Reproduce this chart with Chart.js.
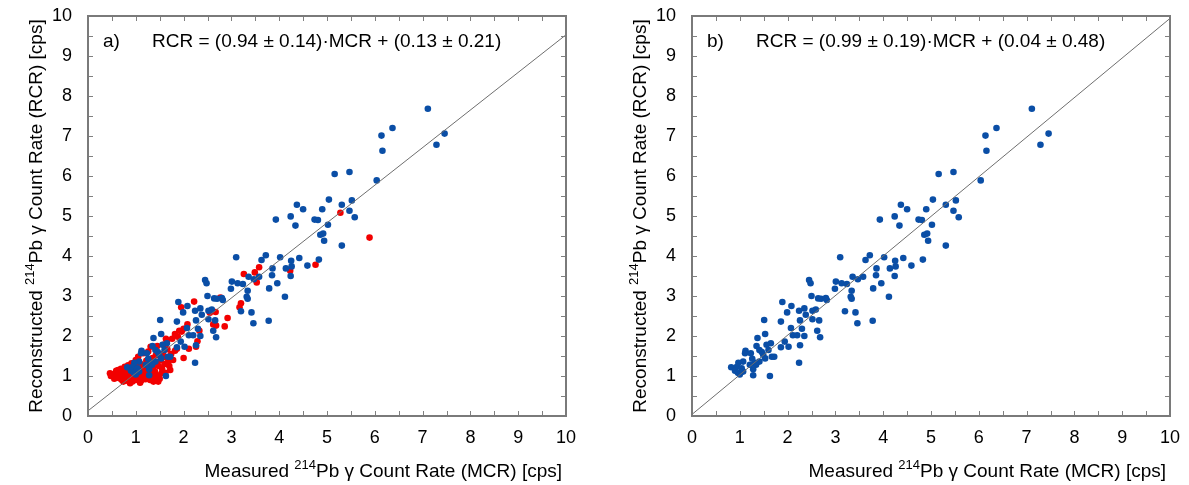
<!DOCTYPE html>
<html>
<head>
<meta charset="utf-8">
<script src="https://cdn.jsdelivr.net/npm/chart.js@4/dist/chart.umd.min.js"></script>
<style>
  html, body { margin: 0; padding: 0; background: #fff; }
  #wrap { position: relative; width: 1189px; height: 485px; overflow: hidden; }
  canvas { position: absolute; top: 0; }
</style>
</head>
<body>
<div id="wrap">
  <canvas id="ca" width="604" height="485" style="left:0"></canvas>
  <canvas id="cb" width="585" height="485" style="left:604px"></canvas>
</div>
<script>
// Reference-spectrometer points (blue): measured vs reconstructed 214Pb count rate [cps]
const blueMCR = [3.10,3.72,3.63,3.86,4.02,3.85,3.58,3.36,3.47,3.24,3.13,3.01,2.99,2.45,2.48,2.50,2.64,2.70,2.80,2.82,
  3.34,3.32,3.34,3.79,3.96,4.12,3.20,3.42,3.46,3.78,1.89,2.08,1.99,2.24,2.35,2.38,2.26,2.52,2.59,2.52,
  2.66,1.51,1.86,2.07,2.30,2.62,2.11,2.20,2.35,2.68,1.53,1.37,1.94,1.86,2.02,2.26,1.65,1.56,1.12,1.11,
  1.23,1.35,1.41,1.46,1.60,1.49,1.67,1.72,1.53,1.26,1.07,0.97,1.32,1.41,1.34,0.82,0.94,1.04,0.90,0.96,
  1.00,1.07,1.28,1.28,1.63,1.21,6.14,6.16,5.16,5.47,6.04,5.04,5.52,5.31,5.47,5.58,4.37,4.50,4.90,4.24,
  3.93,4.74,4.81,4.34,5.02,4.86,4.92,4.94,5.31,4.25,4.42,4.26,4.59,4.83,4.14,4.24,7.11,6.37,7.46,7.29,2.24];
const blueRCR = [3.97,4.02,3.90,3.69,3.97,3.52,3.48,3.48,3.42,3.30,3.32,3.36,3.18,3.40,3.32,3.00,2.94,2.93,2.95,2.90,
  3.13,2.98,2.93,3.19,3.32,2.98,2.62,2.59,2.32,2.38,2.85,2.75,2.59,2.63,2.69,2.53,2.39,2.63,2.66,2.42,
  2.39,2.40,2.36,2.20,2.18,2.13,2.02,2.02,2.00,1.97,2.05,1.95,1.86,1.72,1.73,1.77,1.82,1.78,1.63,1.57,
  1.57,1.75,1.65,1.60,1.65,1.53,1.48,1.48,1.44,1.43,1.36,1.33,1.33,1.36,1.28,1.22,1.23,1.19,1.13,1.08,
  1.04,1.11,1.17,1.02,1.00,1.28,7.01,6.63,6.05,6.10,5.89,5.41,5.39,5.28,5.13,4.97,5.28,5.17,5.17,4.99,
  4.91,4.91,4.90,4.76,4.78,4.53,4.56,4.38,4.26,3.88,3.95,3.74,3.76,3.91,3.69,3.50,7.68,7.20,7.06,6.78,1.33];

// Additional points shown only in panel a (red)
const redMCR = [5.28,5.89,4.76,4.23,3.58,3.49,3.26,3.53,2.77,3.20,3.17,2.22,1.95,2.67,2.55,2.92,2.86,2.62,2.68,2.08,
  2.00,1.91,2.33,1.82,1.88,1.63,1.76,2.00,2.11,2.29,2.26,1.86,1.66,1.45,1.31,1.26,1.82,1.68,1.72,1.54,
  1.47,1.37,1.09,0.95,0.46,0.56,0.67,0.74,0.88,0.63,0.77,0.91,1.05,1.16,1.58,1.65,1.96,
  0.52,0.58,0.60,0.62,0.64,0.66,0.68,0.70,0.71,0.73,0.75,0.76,0.78,0.79,0.80,0.82,0.83,0.85,0.86,0.87,
  0.89,0.90,0.92,0.93,0.95,0.97,0.98,1.00,1.01,1.02,1.04,1.06,1.08,1.10,1.11,1.13,1.15,1.17,1.18,1.20,
  1.22,1.24,1.25,1.27,1.29,1.30,1.33,1.35,1.36,1.38,1.40,1.42,1.43,1.45,1.48,1.50,1.52,1.55,1.57,1.60,
  1.62,1.64,1.70,1.74,1.78,0.48,0.55,0.59,0.69,1.00,0.84];
const redRCR = [5.08,4.46,3.78,3.63,3.72,3.59,3.55,3.34,2.96,2.82,2.72,2.86,2.72,2.60,2.58,2.45,2.24,2.29,2.26,2.29,
  2.18,2.13,2.13,2.05,1.98,1.93,1.93,1.45,1.68,1.87,1.73,1.68,1.67,1.75,1.73,1.61,1.63,1.36,1.15,1.07,
  0.86,0.86,0.83,0.94,1.07,0.98,0.94,0.86,0.82,1.15,1.23,1.32,1.48,1.57,1.78,1.86,2.11,
  1.04,1.08,1.02,0.96,1.10,1.05,0.99,1.12,0.90,1.03,0.97,1.08,0.92,1.15,1.01,0.88,1.06,0.95,1.12,1.00,
  0.91,1.20,1.04,0.86,1.10,0.98,1.16,0.90,1.25,1.02,0.94,1.09,1.00,1.30,0.88,1.14,0.97,1.22,1.05,0.92,
  1.38,1.11,0.98,1.30,1.19,0.90,1.05,1.45,1.22,0.96,1.12,1.52,1.34,1.02,1.25,0.93,1.40,1.18,1.55,1.30,
  1.08,1.46,1.25,1.55,1.40,1.00,0.93,1.13,1.18,1.40,1.27];

// Linear fits RCR = slope·MCR + intercept, panels a and b
const panelLabels = ['a)', 'b)'];
const fitSlope = [0.94, 0.99];
const fitIntercept = [0.13, 0.04];
const fitText = ['RCR = (0.94 ± 0.14)·MCR + (0.13 ± 0.21)', 'RCR = (0.99 ± 0.19)·MCR + (0.04 ± 0.48)'];
const axisTicks = [0, 1, 2, 3, 4, 5, 6, 7, 8, 9, 10];

const FONT = '"Liberation Sans", Arial, Helvetica, sans-serif';
const BLUE = '#0a4ea6';
const RED = '#f20000';
const TEXT_SIZE = 19;

const toPoints = (xs, ys) => xs.map((x, i) => ({ x, y: ys[i] }));

function drawRich(ctx, parts, x, y, size, measureOnly) {
  let cx = x;
  for (const p of parts) {
    const s = p.sup ? Math.round(size * 0.66) : size;
    ctx.font = s + 'px ' + FONT;
    if (!measureOnly) ctx.fillText(p.t, cx, p.sup ? y - size * 0.4 : y);
    cx += ctx.measureText(p.t).width;
  }
  return cx - x;
}

const xTitle = [{ t: 'Measured ' }, { t: '214', sup: true }, { t: 'Pb γ Count Rate (MCR) [cps]' }];
const yTitle = [{ t: 'Reconstructed ' }, { t: '214', sup: true }, { t: 'Pb γ Count Rate (RCR) [cps]' }];

const framePlugin = {
  id: 'frame',
  afterDatasetsDraw(chart, args, opts) {
    const { ctx, chartArea: a, scales } = chart;
    const xs = scales.x, ys = scales.y;
    ctx.save();
    // inward tick marks every 0.5 on all four sides
    ctx.strokeStyle = '#808080';
    ctx.lineWidth = 1;
    const L = 5;
    ctx.beginPath();
    for (let v = 0.5; v < 10; v += 0.5) {
      const px = Math.round(xs.getPixelForValue(v)) + 0.5;
      ctx.moveTo(px, a.bottom); ctx.lineTo(px, a.bottom - L);
      ctx.moveTo(px, a.top); ctx.lineTo(px, a.top + L);
      const py = Math.round(ys.getPixelForValue(v)) + 0.5;
      ctx.moveTo(a.left, py); ctx.lineTo(a.left + L, py);
      ctx.moveTo(a.right, py); ctx.lineTo(a.right - L, py);
    }
    ctx.stroke();
    // frame
    ctx.strokeStyle = '#7a7a7a';
    ctx.lineWidth = 2;
    ctx.strokeRect(a.left, a.top, a.right - a.left, a.bottom - a.top);

    // panel label and fit equation
    ctx.fillStyle = '#000';
    ctx.textBaseline = 'alphabetic';
    ctx.textAlign = 'left';
    ctx.font = TEXT_SIZE + 'px ' + FONT;
    ctx.fillText(opts.label, a.left + 15, a.top + 31);
    ctx.fillText(opts.eq, a.left + 64, a.top + 31);

    // x axis title (right-aligned to the plot)
    const w = drawRich(ctx, xTitle, 0, 0, TEXT_SIZE, true);
    drawRich(ctx, xTitle, a.right - 4 - w, 477, TEXT_SIZE);

    // y axis title (rotated, centered on the plot)
    const wy = drawRich(ctx, yTitle, 0, 0, TEXT_SIZE, true);
    ctx.translate(42, (a.top + a.bottom) / 2);
    ctx.rotate(-Math.PI / 2);
    drawRich(ctx, yTitle, -wy / 2, 0, TEXT_SIZE);
    ctx.restore();
  }
};

function makeChart(id, idx, rightPad, withRed) {
  const datasets = [];
  if (withRed) {
    datasets.push({
      type: 'scatter', data: toPoints(redMCR, redRCR),
      backgroundColor: RED, borderColor: RED, pointRadius: 3.3, borderWidth: 0, order: 3
    });
  }
  datasets.push({
    type: 'scatter', data: toPoints(blueMCR, blueRCR),
    backgroundColor: BLUE, borderColor: BLUE, pointRadius: 3.3, borderWidth: 0, order: 2
  });
  datasets.push({
    type: 'line',
    data: [0, 10].map(x => ({ x, y: fitSlope[idx] * x + fitIntercept[idx] })),
    borderColor: '#6e6e6e', borderWidth: 1, pointRadius: 0, fill: false, order: 1
  });
  return new Chart(document.getElementById(id), {
    type: 'scatter',
    data: { datasets },
    options: {
      responsive: false,
      animation: false,
      events: [],
      layout: { padding: { top: 16, right: rightPad, bottom: 0, left: 0 } },
      plugins: {
        legend: { display: false },
        tooltip: { enabled: false },
        frame: { label: panelLabels[idx], eq: fitText[idx] }
      },
      scales: {
        x: {
          type: 'linear', min: 0, max: 10,
          afterFit: s => { s.height = 69; s.paddingLeft = 0; s.paddingRight = 0; },
          afterBuildTicks: s => { s.ticks = axisTicks.map(v => ({ value: v })); },
          grid: { display: false, drawTicks: false },
          border: { display: false },
          ticks: { padding: 11, color: '#000', font: { family: FONT, size: 18 }, maxRotation: 0 }
        },
        y: {
          type: 'linear', min: 0, max: 10,
          afterFit: s => { s.width = 88; s.paddingTop = 0; s.paddingBottom = 0; },
          afterBuildTicks: s => { s.ticks = axisTicks.map(v => ({ value: v })); },
          grid: { display: false, drawTicks: false },
          border: { display: false },
          ticks: { padding: 16, color: '#000', font: { family: FONT, size: 18 } }
        }
      }
    },
    plugins: [framePlugin]
  });
}

makeChart('ca', 0, 38, true);
makeChart('cb', 1, 19, false);
</script>
</body>
</html>
